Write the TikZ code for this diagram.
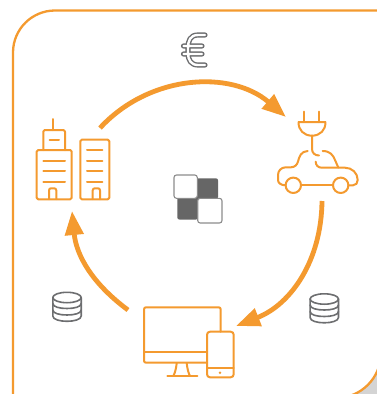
\documentclass[tikz,border=0pt]{standalone}
\usetikzlibrary{arrows.meta}
\definecolor{org}{HTML}{F49A2F}
\definecolor{gry}{HTML}{6D6E70}
\definecolor{drk}{HTML}{666666}
\definecolor{shd}{HTML}{D4D4D4}
\tikzset{
 icon/.style={draw=org,line width=2pt,line cap=round,line join=round},
 gicon/.style={draw=gry,line width=1.6pt,line cap=round,line join=round},
 flow/.style={draw=org,line width=4.8pt,-{Triangle[length=24pt,width=18pt]}},
 tile/.style={draw=gray!90,fill=white,line width=1.1pt,rounded corners=2.5pt},
 darktile/.style={fill=drk,rounded corners=2pt},
}
\begin{document}
\begin{tikzpicture}[x=1pt,y=-1pt]
\useasboundingbox (0,0) rectangle (377,394);
\clip (0,0) rectangle (377,394);
\fill[white] (0,0) rectangle (377,394);
% shadow and frame
\fill[shd] (377,366) -- (381,353) .. controls (381,378) and (361,398) .. (336,398) -- (350,394) -- (377,394) -- cycle;
\draw[org,line width=2.3pt,rounded corners=42pt] (13,430) -- (13,10.5) -- (420,10.5);
\draw[org,line width=2.3pt] (381,353) .. controls (381,378) and (361,398) .. (336,398);
% anchors of the cycle
\coordinate (aS) at (100,128);
\coordinate (aE) at (286,117);
\coordinate (bS) at (322,201);
\coordinate (bE) at (236,326);
\coordinate (cS) at (128,310);
\coordinate (cE) at (72,211);
\draw[flow] (aS) to[bend left=44] (aE);
\draw[flow] (bS) to[bend left=34] (bE);
\draw[flow] (cS) to[bend left=24] (cE);
% euro
\foreach \c/\w in {gry/5.2,white/2.4}{
 \draw[\c,line width=\w pt,line cap=round,line join=round]
  (205,35) -- (198,35) .. controls (190,35) and (188,41) .. (188,48) -- (188,53) .. controls (188,60) and (191,65) .. (198,65) -- (205,65)
  (183.5,46) -- (202,46) (183.5,54) -- (202,54);
}
% buildings
\draw[icon,rounded corners=1.5pt] (36.7,150) rectangle (71.7,199.3);
\draw[icon,rounded corners=1.5pt] (43.3,150) -- (43.3,130) -- (65,130) -- (65,150);
\draw[icon] (52.5,119) -- (52.5,130) (49.7,139.7) -- (59,139.7);
\draw[icon] (43.3,160.7) -- (65,160.7) (43.3,171) -- (65,171) (43.3,181.7) -- (65,181.7);
\draw[icon,rounded corners=2pt] (49,199) -- (49,188.3) -- (56.3,188.3) -- (56.3,199);
\draw[icon,rounded corners=1.5pt] (80.3,139.7) rectangle (109.3,199.3);
\draw[icon] (87,150) -- (102.3,150) (87,160.7) -- (102.3,160.7) (87,171) -- (102.3,171) (87,181.7) -- (102.3,181.7);
\draw[icon,rounded corners=2pt] (92.7,199) -- (92.7,188.3) -- (100,188.3) -- (100,199);
% plug
\draw[icon] (304.3,111.7) -- (304.3,122) (319,111.7) -- (319,122);
\draw[icon] (298.7,122) -- (325.3,122) .. controls (326,130) and (320,135.7) .. (312,135.7) .. controls (304,135.7) and (298,130) .. (298.7,122) -- cycle;
\draw[icon] (312,135.7) -- (312,149) .. controls (312,153) and (315,155.5) .. (319,155.5);
% car
\draw[icon] (307.7,151) .. controls (301,151.5) and (299.5,156) .. (298,161.5) .. controls (297,165) and (295,167) .. (291,167.3) -- (285.5,167.3) .. controls (281,167.5) and (278,171) .. (278,175) -- (278,180) .. controls (278,183) and (281,185.3) .. (285.6,185.3);
\draw[icon] (293.3,185.3) circle (7.7pt);
\draw[icon] (340.7,185.3) circle (7.7pt);
\draw[icon] (301,185.3) -- (333,185.3);
\draw[icon] (348.4,185.3) -- (353,185.3) .. controls (356,185.3) and (357.7,183) .. (357.7,180) .. controls (357.7,173) and (352,167.7) .. (345,167.7) -- (321.7,167.7) .. controls (318,167.7) and (315.7,165) .. (315.7,161.7);
\draw[icon] (322.7,151) .. controls (330,151) and (333,155) .. (335,160) -- (338.3,167.5);
% monitor
\draw[icon,rounded corners=2pt] (220.7,331.7) -- (220.7,307.3) -- (144,307.3) -- (144,362.7) -- (207,362.7);
\draw[icon] (144,352.3) -- (207,352.3);
\draw[icon] (176.7,363.3) .. controls (176,369) and (175,373) .. (173.3,376);
\draw[icon] (186.7,363.3) .. controls (187.4,369) and (188.4,373) .. (190,376);
\draw[icon] (167.3,376) -- (197.3,376);
\draw[icon,rounded corners=3pt] (207,331.7) rectangle (233.7,377.3);
\draw[icon] (207,368.3) -- (233.7,368.3);
\fill[org] (220,372.7) circle (1.3pt);
% databases
\foreach \x/\y/\n in {67/297.5/dbL,324.3/299/dbR}{
 \begin{scope}[shift={(\x,\y)}]
 \coordinate (\n) at (0,0);
 \draw[gicon] (0,0) ellipse [x radius=14.2pt,y radius=5.2pt];
 \draw[gicon] (-14.2,0) -- (-14.2,18.5) .. controls (-14.2,22) and (-7,23.8) .. (0,23.8) .. controls (7,23.8) and (14.2,22) .. (14.2,18.5) -- (14.2,0);
 \draw[gicon] (-14.2,6) .. controls (-14.2,9.5) and (-7,11) .. (0,11) .. controls (7,11) and (14.2,9.5) .. (14.2,6);
 \draw[gicon] (-14.2,12.5) .. controls (-14.2,16) and (-7,17.5) .. (0,17.5) .. controls (7,17.5) and (14.2,16) .. (14.2,12.5);
 \end{scope}
}
% centre tiles
\fill[darktile] (196,178.3) rectangle (218,199);
\fill[darktile] (177.3,197) rectangle (198,219.5);
\draw[tile] (174,175) rectangle (197.3,198.3);
\draw[tile] (197.7,198.3) rectangle (222,223);
\end{tikzpicture}
\end{document}
